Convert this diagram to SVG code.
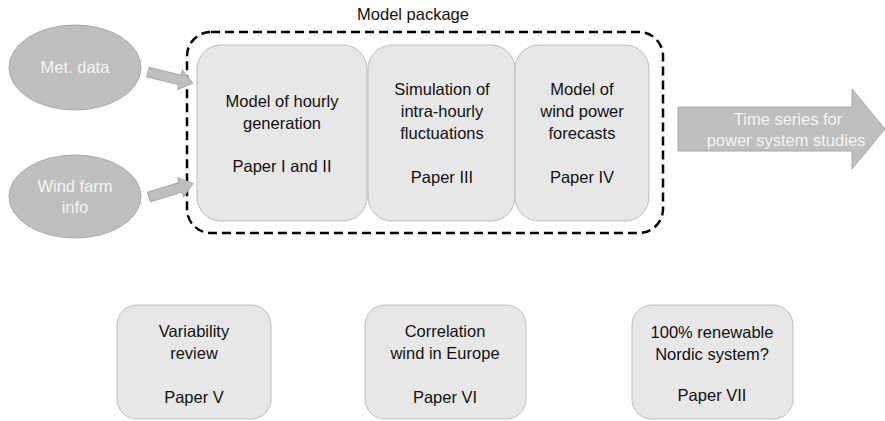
<svg xmlns="http://www.w3.org/2000/svg" width="885" height="421" viewBox="0 0 885 421">
<style>
text{font-family:"Liberation Sans",Arial,sans-serif;font-size:16.5px;text-anchor:middle}
.dark{fill:#111}
.light{fill:#f4f4f4}
.box{fill:#e7e7e7;stroke:#bdbdbd;stroke-width:1}
.src{fill:#bfbfbf;stroke:#a8a8a8;stroke-width:1}
.pkg{fill:none;stroke:#000;stroke-width:2.5;stroke-dasharray:9 5}
</style>
<rect width="885" height="421" fill="#fff"/>
<g id="package">
<rect class="pkg" x="187" y="32" width="476" height="201" rx="24" ry="24"/>
<text class="dark" x="413" y="20">Model package</text>
</g>
<g id="met-data">
<ellipse class="src" cx="75" cy="67.5" rx="66" ry="42.5"/>
<text class="light" x="75" y="73">Met. data</text>
</g>
<g id="wind-farm-info">
<ellipse class="src" cx="75" cy="196.5" rx="66" ry="41.5"/>
<text class="light" x="75" y="192">Wind farm</text>
<text class="light" x="75" y="213">info</text>
</g>
<g id="hourly">
<rect class="box" x="197" y="45" width="170" height="176" rx="24" ry="24"/>
<text class="dark" x="282" y="107">Model of hourly</text>
<text class="dark" x="282" y="129">generation</text>
<text class="dark" x="282" y="172">Paper I and II</text>
</g>
<g id="intra-hourly">
<rect class="box" x="368" y="45" width="147" height="176" rx="24" ry="24"/>
<text class="dark" x="442" y="95">Simulation of</text>
<text class="dark" x="442" y="117">intra-hourly</text>
<text class="dark" x="442" y="139">fluctuations</text>
<text class="dark" x="442" y="183">Paper III</text>
</g>
<g id="forecasts">
<rect class="box" x="515" y="45" width="134" height="176" rx="24" ry="24"/>
<text class="dark" x="582" y="95">Model of</text>
<text class="dark" x="582" y="117">wind power</text>
<text class="dark" x="582" y="139">forecasts</text>
<text class="dark" x="582" y="183">Paper IV</text>
</g>
<g id="output">
<polygon class="src" points="678,107 852,107 852,89 885,129 852,169 852,151 678,151"/>
<text class="light" x="788" y="125">Time series for</text>
<text class="light" x="786" y="146">power system studies</text>
</g>
<g id="variability">
<rect class="box" x="117" y="305" width="154" height="114" rx="20" ry="20"/>
<text class="dark" x="194" y="337">Variability</text>
<text class="dark" x="194" y="359">review</text>
<text class="dark" x="194" y="403">Paper V</text>
</g>
<g id="correlation">
<rect class="box" x="365" y="305" width="161" height="114" rx="20" ry="20"/>
<text class="dark" x="445" y="337">Correlation</text>
<text class="dark" x="445" y="359">wind in Europe</text>
<text class="dark" x="445" y="403">Paper VI</text>
</g>
<g id="nordic">
<rect class="box" x="632" y="305" width="161" height="114" rx="20" ry="20"/>
<text class="dark" x="712" y="338">100% renewable</text>
<text class="dark" x="712" y="360">Nordic system?</text>
<text class="dark" x="712" y="401">Paper VII</text>
</g>
<g id="connectors">
<polygon class="src" transform="translate(148,72) rotate(14)" points="0,-5 33,-5 33,-10 46,0 33,10 33,5 0,5"/>
<polygon class="src" transform="translate(149,197) rotate(-17)" points="0,-5 33,-5 33,-10 46,0 33,10 33,5 0,5"/>
</g>
</svg>
